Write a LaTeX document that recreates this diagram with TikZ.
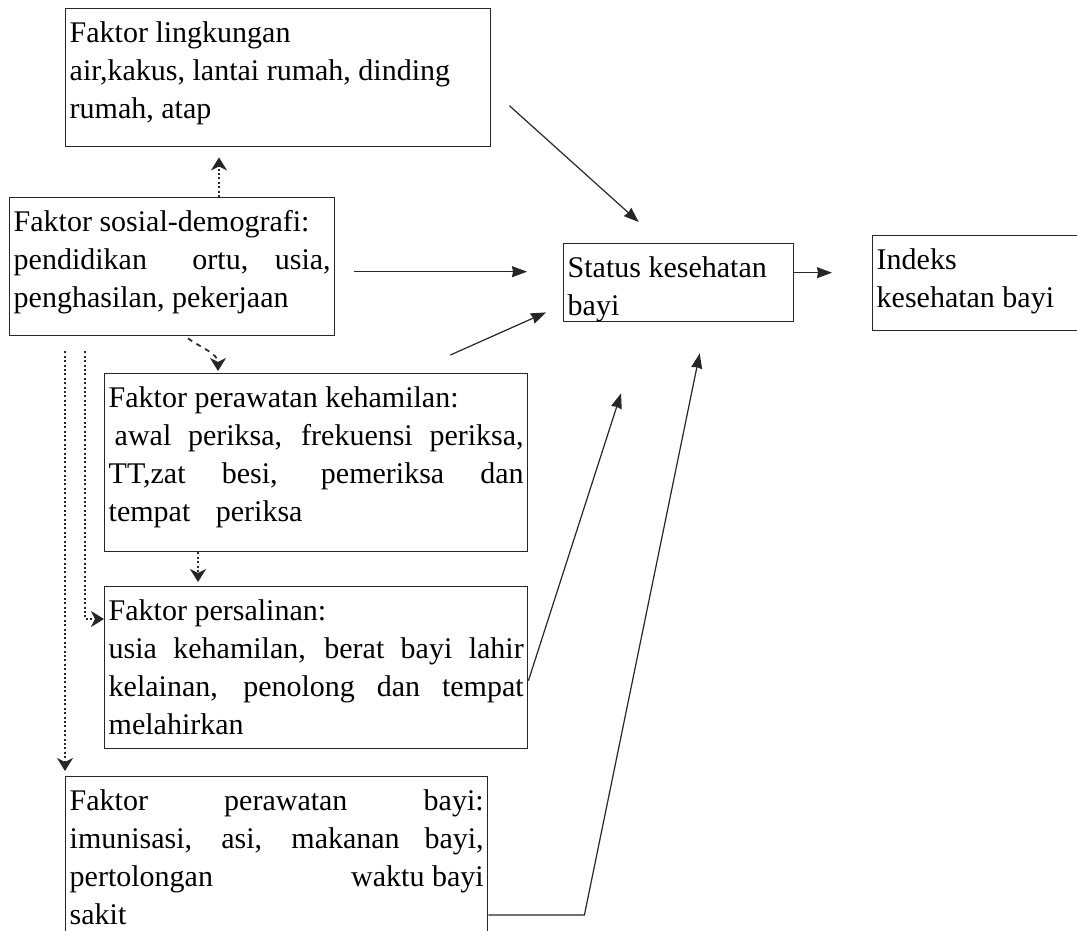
\documentclass[tikz,border=0pt]{standalone}
\usepackage{fontspec}
\setmainfont{Liberation Serif}
\usetikzlibrary{arrows.meta,calc}

\newcommand{\boxtxt}[3]{\parbox[t][#2][t]{#1}{\strut#3}}
\newcommand{\sline}[1]{\makebox[\linewidth][s]{#1}}

\begin{document}
\begin{tikzpicture}[x=1pt,y=-1pt]
\tikzstyle{every node}+=[inner xsep=4pt,inner ysep=7pt,font=\fontsize{30}{38}\selectfont]
\tikzstyle{fbox}=[draw=black!85,line width=1.4pt,anchor=north west]
\tikzstyle{arr}=[black!85,line width=1.2pt,-{Stealth[length=15pt,width=11pt,inset=1pt]}]
\tikzstyle{dotarr}=[black!85,line width=1.9pt,dash pattern=on 2pt off 2.4pt,-{Stealth[length=13pt,width=16pt,inset=4pt]}]
\tikzstyle{dasharr}=[black!85,line width=1.7pt,dash pattern=on 5pt off 5pt,-{Stealth[length=13pt,width=16pt,inset=4pt]}]
\useasboundingbox (0,0) rectangle (1077,931);
\clip (0,0) rectangle (1077,931);
\node[fbox] (lingk) at (65,8) {\boxtxt{417pt}{124pt}{Faktor lingkungan\\air,kakus, lantai rumah, dinding\\rumah, atap}};
\node[fbox] (sosial) at (9,197) {\boxtxt{317pt}{124pt}{Faktor sosial-demografi:\\\sline{pendidikan\ \ ortu, usia,}\\penghasilan, pekerjaan}};
\node[fbox] (status) at (563,243) {\boxtxt{222pt}{64pt}{Status kesehatan\\bayi}};
\node[fbox] (indeks) at (872,235) {\boxtxt{210pt}{81pt}{Indeks\\kesehatan bayi}};
\node[fbox] (kehamilan) at (104,373) {\boxtxt{415pt}{164pt}{Faktor perawatan kehamilan:\\\sline{\hspace*{6pt}awal periksa, frekuensi periksa,}\\\sline{TT,zat besi, pemeriksa dan}\\tempat\hspace{18pt} periksa}};
\node[fbox] (persalinan) at (104,586) {\boxtxt{415pt}{148pt}{Faktor persalinan:\\\sline{usia kehamilan, berat bayi lahir}\\\sline{kelainan, penolong dan tempat}\\melahirkan}};
\node[fbox] (bayi) at (65,776) {\boxtxt{414pt}{160pt}{\sline{Faktor perawatan bayi:}\\\sline{imunisasi, asi, makanan bayi,}\\\sline{pertolongan\hfill waktu bayi}\\sakit}};
\draw[arr] ($(lingk.east)+(18,28)$) -- ($(status.north)+(-40,-21)$);
\draw[arr] ($(sosial.east)+(19,5)$) -- ($(status.west)+(-36,-11)$);
\draw[arr] ($(status.east)+(0,-10)$) -- ($(indeks.west)+(-40,-10.5)$);
\draw[arr] ($(kehamilan.north east)+(-78,-18)$) -- ($(status.south west)+(-17,-10)$);
\draw[arr] ($(persalinan.east)+(0,13)$) -- ($(status.south west)+(58,71)$);
\coordinate (knee) at ($(bayi.north east)+(96,139)$);
\draw[arr] (bayi.north east |- knee) -- (knee) -- ($(status.south)+(21,31)$);
\draw[dotarr] ($(sosial.north west)+(210,0)$) -- ($(lingk.south west)+(154,10)$);
\draw[dasharr] ($(sosial.south west)+(179,2)$) to[out=-35,in=90] ($(kehamilan.north west)+(114,-2)$);
\draw[dotarr] ($(kehamilan.south west)+(94,0)$) -- ($(persalinan.north west)+(94,-4)$);
\coordinate (innertop) at ($(sosial.south west)+(76,15)$);
\draw[dotarr] (innertop) |- ($(persalinan.north west)+(0,33)$);
\coordinate (outertop) at ($(sosial.south west)+(56,15)$);
\draw[dotarr] (outertop) -- ($(bayi.north west)+(0,-5)$);
\end{tikzpicture}
\end{document}
